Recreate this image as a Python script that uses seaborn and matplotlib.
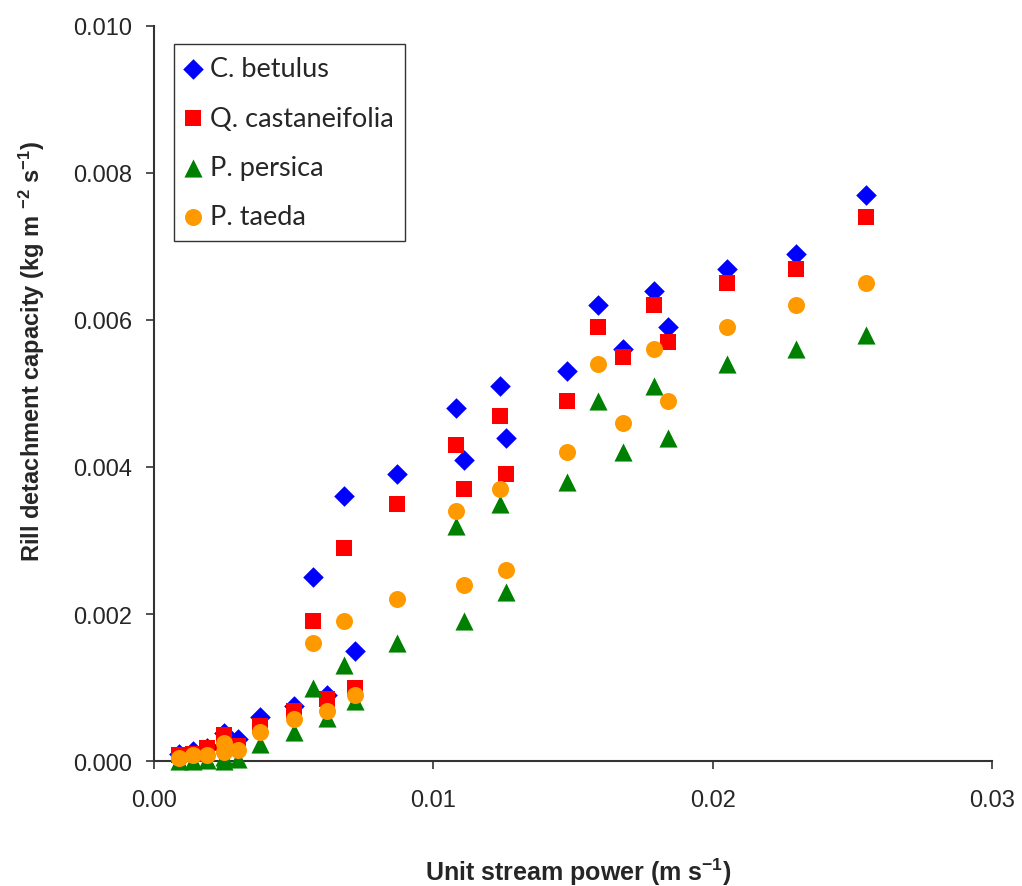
import numpy as np
import pandas as pd
import seaborn as sns
import matplotlib.pyplot as plt
from matplotlib.ticker import FormatStrFormatter, MultipleLocator

# unit stream power (m s-1)
power = [0.0009, 0.0014, 0.0019, 0.0025, 0.0025, 0.0030, 0.0038, 0.0050, 0.0057,
         0.0062, 0.0068, 0.0072, 0.0087, 0.0108, 0.0111, 0.0124, 0.0126, 0.0148,
         0.0159, 0.0168, 0.0179, 0.0184, 0.0205, 0.0230, 0.0255]

# rill detachment capacity (kg m-2 s-1)
c_betulus = [0.00010, 0.00013, 0.00018, 0.00038, 0.00022, 0.00030, 0.00060, 0.00075, 0.0025,
             0.00090, 0.0036, 0.0015, 0.0039, 0.0048, 0.0041, 0.0051, 0.0044, 0.0053,
             0.0062, 0.0056, 0.0064, 0.0059, 0.0067, 0.0069, 0.0077]
q_castaneifolia = [0.00008, 0.00010, 0.00018, 0.00036, 0.00020, 0.00020, 0.00048, 0.00068, 0.0019,
                   0.00084, 0.0029, 0.0010, 0.0035, 0.0043, 0.0037, 0.0047, 0.0039, 0.0049,
                   0.0059, 0.0055, 0.0062, 0.0057, 0.0065, 0.0067, 0.0074]
p_persica = [0.0, 0.0, 0.00002, 0.00005, 0.0, 0.00003, 0.00023, 0.00040, 0.0010,
             0.00058, 0.0013, 0.00082, 0.0016, 0.0032, 0.0019, 0.0035, 0.0023, 0.0038,
             0.0049, 0.0042, 0.0051, 0.0044, 0.0054, 0.0056, 0.0058]
p_taeda = [0.00004, 0.00008, 0.00008, 0.00024, 0.00012, 0.00015, 0.00040, 0.00057, 0.0016,
           0.00068, 0.0019, 0.00090, 0.0022, 0.0034, 0.0024, 0.0037, 0.0026, 0.0042,
           0.0054, 0.0046, 0.0056, 0.0049, 0.0059, 0.0062, 0.0065]

species = ["C. betulus", "Q. castaneifolia", "P. persica", "P. taeda"]
series = [c_betulus, q_castaneifolia, p_persica, p_taeda]
colors = ["#0000FF", "#FF0000", "#008000", "#FF9900"]
markers = ["D", "s", "^", "o"]
sizes = [110, 130, 170, 150]

sns.set_style("white")
plt.rcParams['font.family'] = ['Liberation Sans', 'DejaVu Sans']
plt.rcParams['mathtext.fontset'] = 'custom'
plt.rcParams['mathtext.rm'] = 'Liberation Sans'
plt.rcParams['mathtext.bf'] = 'Liberation Sans:bold'
plt.rcParams['mathtext.default'] = 'regular'

fig = plt.figure(figsize=(10.22, 8.87), dpi=100)
ax = fig.add_axes([0.1507, 0.1409, 0.8199, 0.8287])

for name, vals, c, m, s in zip(species, series, colors, markers, sizes):
    df = pd.DataFrame({"power": power, "dc": vals})
    sns.scatterplot(data=df, x="power", y="dc", ax=ax, color=c, marker=m, s=s,
                    linewidth=0, label=name, clip_on=False, zorder=3)

ax.set_xlim(0, 0.03)
ax.set_ylim(0, 0.010)
ax.xaxis.set_major_locator(MultipleLocator(0.01))
ax.yaxis.set_major_locator(MultipleLocator(0.002))
ax.xaxis.set_major_formatter(FormatStrFormatter("%.2f"))
ax.yaxis.set_major_formatter(FormatStrFormatter("%.3f"))

for side in ["top", "right"]:
    ax.spines[side].set_visible(False)
for side in ["left", "bottom"]:
    ax.spines[side].set_color("#333333")
    ax.spines[side].set_linewidth(1.5)
ax.tick_params(axis="both", direction="out", length=6, width=1.2, color="#333333",
               labelsize=17, left=True, bottom=True)
ax.tick_params(axis="y", pad=10)
ax.tick_params(axis="x", pad=14)

ax.set_xlabel("Unit stream power (m s$^{-1}$)", fontsize=18, fontweight="bold")
ax.xaxis.set_label_coords(0.506, -0.128)
ax.set_ylabel("Rill detachment capacity (kg m $^{-2}$ s$^{-1}$)", fontsize=17,
              fontweight="bold")
ax.yaxis.set_label_coords(-0.128, 0.558)

leg = ax.legend(loc="upper left", bbox_to_anchor=(0.0239, 0.9755), borderaxespad=0,
                frameon=True, fancybox=False, edgecolor="#333333", framealpha=1,
                labelspacing=0.9, handletextpad=0.36, handlelength=0.5, borderpad=0.45,
                prop={"family": "Lato", "size": 19.5})
leg.get_frame().set_linewidth(1.0)

fig.savefig("out.png", dpi=100)
